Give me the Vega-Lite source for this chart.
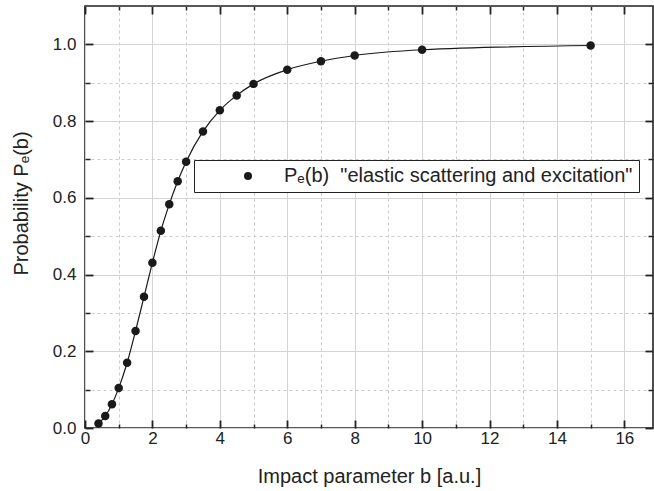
{
  "$schema": "https://vega.github.io/schema/vega-lite/v6.json",
  "autosize": "none",
  "width": 568,
  "height": 422,
  "padding": {"left": 85, "top": 6, "right": 1, "bottom": 63},
  "background": "white",
  "config": {
    "view": {"stroke": "#222", "strokeWidth": 1.6},
    "font": "Liberation Sans",
    "axis": {"domain": false, "labelColor": "#222", "titleColor": "#222", "tickColor": "#222", "labelFont": "Liberation Sans", "titleFont": "Liberation Sans", "titleFontWeight": "normal"}
  },
  "data": {"values": [
    {"b": 0.4, "P": 0.012},
    {"b": 0.6, "P": 0.031},
    {"b": 0.8, "P": 0.062},
    {"b": 1.0, "P": 0.104},
    {"b": 1.25, "P": 0.17},
    {"b": 1.5, "P": 0.253},
    {"b": 1.75, "P": 0.342},
    {"b": 2.0, "P": 0.431},
    {"b": 2.25, "P": 0.514},
    {"b": 2.5, "P": 0.583},
    {"b": 2.75, "P": 0.643},
    {"b": 3.0, "P": 0.694},
    {"b": 3.5, "P": 0.773},
    {"b": 4.0, "P": 0.828},
    {"b": 4.5, "P": 0.867},
    {"b": 5.0, "P": 0.897},
    {"b": 6.0, "P": 0.934},
    {"b": 7.0, "P": 0.956},
    {"b": 8.0, "P": 0.971},
    {"b": 10.0, "P": 0.986},
    {"b": 15.0, "P": 0.997}
  ]},
  "layer": [
    {
      "mark": {"type": "point", "opacity": 0},
      "encoding": {
        "x": {"field": "b", "type": "quantitative", "scale": {"domain": [0, 16.85], "nice": false, "zero": false},
          "axis": {"orient": "bottom", "values": [1,3,5,7,9,11,13,15], "labels": false, "title": null, "grid": true, "gridDash": [3,3], "gridColor": "#cccccc", "gridWidth": 1, "tickSize": -4, "tickWidth": 1.5}},
        "y": {"field": "P", "type": "quantitative", "scale": {"domain": [0, 1.1], "nice": false, "zero": false},
          "axis": {"orient": "left", "values": [0.1,0.3,0.5,0.7,0.9], "labels": false, "title": null, "grid": true, "gridDash": [3,3], "gridColor": "#cccccc", "gridWidth": 1, "tickSize": -5, "tickWidth": 1.5}}
      }
    },
    {
      "mark": {"type": "point", "opacity": 0},
      "encoding": {
        "x": {"field": "b", "type": "quantitative",
          "axis": {"orient": "top", "values": [1,3,5,7,9,11,13,15], "labels": false, "title": null, "grid": false, "tickSize": -4, "tickWidth": 1.5}},
        "y": {"field": "P", "type": "quantitative",
          "axis": {"orient": "right", "values": [0.1,0.3,0.5,0.7,0.9], "labels": false, "title": null, "grid": false, "tickSize": -5, "tickWidth": 1.5}}
      }
    },
    {
      "mark": {"type": "line", "color": "#1a1a1a", "strokeWidth": 1.2, "interpolate": "monotone"},
      "encoding": {
        "x": {"field": "b", "type": "quantitative",
          "axis": {"orient": "top", "values": [0,2,4,6,8,10,12,14,16], "labels": false, "title": null, "grid": false, "tickSize": -8, "tickWidth": 1.8}},
        "y": {"field": "P", "type": "quantitative",
          "axis": {"orient": "right", "values": [0,0.2,0.4,0.6,0.8,1.0], "labels": false, "title": null, "grid": false, "tickSize": -8, "tickWidth": 1.8}}
      }
    },
    {
      "mark": {"type": "point", "filled": true, "size": 72, "opacity": 1},
      "encoding": {
        "x": {"field": "b", "type": "quantitative",
          "axis": {"orient": "bottom", "values": [0,2,4,6,8,10,12,14,16], "title": "Impact parameter b [a.u.]", "grid": true, "gridColor": "#d4d4d4", "gridWidth": 1, "tickSize": -8, "tickWidth": 1.8, "labelFontSize": 17, "labelPadding": 10, "titleFontSize": 20, "titlePadding": 20, "labelFlush": false}},
        "y": {"field": "P", "type": "quantitative",
          "axis": {"orient": "left", "values": [0,0.2,0.4,0.6,0.8,1.0], "format": ".1f", "title": "Probability Pₑ(b)", "grid": true, "gridColor": "#d4d4d4", "gridWidth": 1, "tickSize": -8, "tickWidth": 1.8, "labelFontSize": 17, "labelPadding": 17, "titleFontSize": 20, "titlePadding": 21, "titleY": 197, "labelFlush": false}},
        "color": {"datum": "Pₑ(b)\u00a0\u00a0\"elastic scattering and excitation\"\u00a0", "type": "nominal", "scale": {"range": ["#1a1a1a"]},
          "legend": {"title": null, "orient": "none", "legendX": 109, "legendY": 154, "strokeColor": "#222", "fillColor": "white", "padding": 6, "symbolOffset": 38, "symbolSize": 64, "symbolType": "circle", "labelFontSize": 20, "labelFont": "Liberation Sans", "labelColor": "#222", "labelOffset": 26, "labelLimit": 600}}
      }
    }
  ],
  "resolve": {"axis": {"x": "independent", "y": "independent"}}
}
